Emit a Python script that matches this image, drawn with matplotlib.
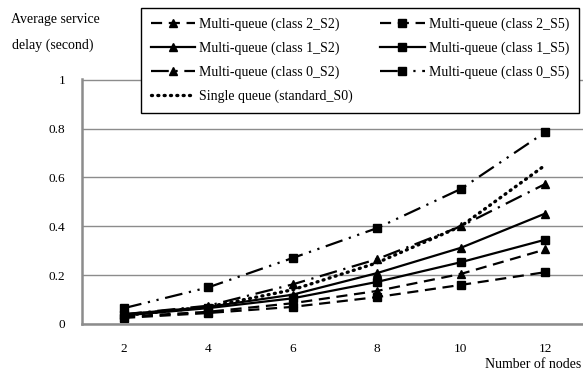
import numpy as np
import matplotlib
matplotlib.use('Agg')
import matplotlib.pyplot as plt

plt.rcParams['font.family'] = ['Liberation Serif', 'DejaVu Serif']

# data
nodes = [2, 4, 6, 8, 10, 12]
c2_s2 = [0.030, 0.050, 0.085, 0.135, 0.205, 0.305]
c2_s5 = [0.025, 0.045, 0.070, 0.110, 0.160, 0.212]
c1_s2 = [0.040, 0.070, 0.120, 0.208, 0.312, 0.452]
c1_s5 = [0.035, 0.065, 0.105, 0.172, 0.253, 0.345]
c0_s2 = [0.040, 0.075, 0.162, 0.265, 0.400, 0.573]
c0_s5 = [0.065, 0.150, 0.270, 0.392, 0.553, 0.785]
single = [0.035, 0.070, 0.140, 0.250, 0.400, 0.650]

fig = plt.figure(figsize=(5.83, 3.74), dpi=100)
W, H = 583.0, 374.0
# axes box in pixels: left 82, bottom y=324, top y=79
ax = fig.add_axes([82 / W, 1 - 324 / H, 1 - 82 / W, (324 - 79) / H])

x = np.arange(len(nodes))
lw = 1.6
ms = 6

l_c2s2, = ax.plot(x, c2_s2, color='k', lw=lw, ls=(0, (5, 3)), marker='^', ms=ms)
l_c2s5, = ax.plot(x, c2_s5, color='k', lw=lw, ls=(0, (5, 3)), marker='s', ms=ms)
l_c1s2, = ax.plot(x, c1_s2, color='k', lw=lw, ls='-', marker='^', ms=ms)
l_c1s5, = ax.plot(x, c1_s5, color='k', lw=lw, ls='-', marker='s', ms=ms)
l_c0s2, = ax.plot(x, c0_s2, color='k', lw=lw, ls=(0, (8, 3, 1, 3)), marker='^', ms=ms)
l_c0s5, = ax.plot(x, c0_s5, color='k', lw=lw, ls=(0, (8, 3, 1, 3, 1, 3)), marker='s', ms=ms)
l_single, = ax.plot(x, single, color='k', lw=2.4, ls=(0, (0.3, 1.6)),
                    dash_capstyle='round', solid_capstyle='round')

ax.set_xlim(-0.5, 5.45)
ax.set_ylim(0, 1.003)
ax.set_xticks(x)
ax.set_xticklabels([str(n) for n in nodes], fontsize=9.5)
ax.set_yticks([0, 0.2, 0.4, 0.6, 0.8, 1])
ax.set_yticklabels(['0', '0.2', '0.4', '0.6', '0.8', '1'], fontsize=9.5)
ax.tick_params(length=0, pad=14)
ax.tick_params(axis='y', pad=12)
ax.yaxis.grid(True, color='#8c8c8c', lw=1)
ax.set_axisbelow(True)
for s in ['top', 'right']:
    ax.spines[s].set_visible(False)
for s in ['left', 'bottom']:
    ax.spines[s].set_color('#8c8c8c')
    ax.spines[s].set_linewidth(1.8)

handles = [l_c2s2, l_c1s2, l_c0s2, l_single, l_c2s5, l_c1s5, l_c0s5]
labels = ['Multi-queue (class 2_S2)', 'Multi-queue (class 1_S2)',
          'Multi-queue (class 0_S2)', 'Single queue (standard_S0)',
          'Multi-queue (class 2_S5)', 'Multi-queue (class 1_S5)',
          'Multi-queue (class 0_S5)']
leg = fig.legend(handles, labels, ncol=2, fontsize=10,
                 loc='upper left', bbox_to_anchor=(141 / W, 1 - 8 / H),
                 borderaxespad=0,
                 frameon=True, fancybox=False, edgecolor='k', framealpha=1,
                 handlelength=3.2, handletextpad=0.3, columnspacing=1.95,
                 borderpad=0.7, labelspacing=0.75)
leg.get_frame().set_linewidth(1.0)

fig.text(55 / W, 1 - 20 / H, 'Average service', fontsize=10, ha='center', va='center')
fig.text(53 / W, 1 - 45 / H, 'delay (second)', fontsize=10, ha='center', va='center')
fig.text(581 / W, 1 - 365 / H, 'Number of nodes', fontsize=10, ha='right', va='center')

fig.savefig('out.png', dpi=100)
